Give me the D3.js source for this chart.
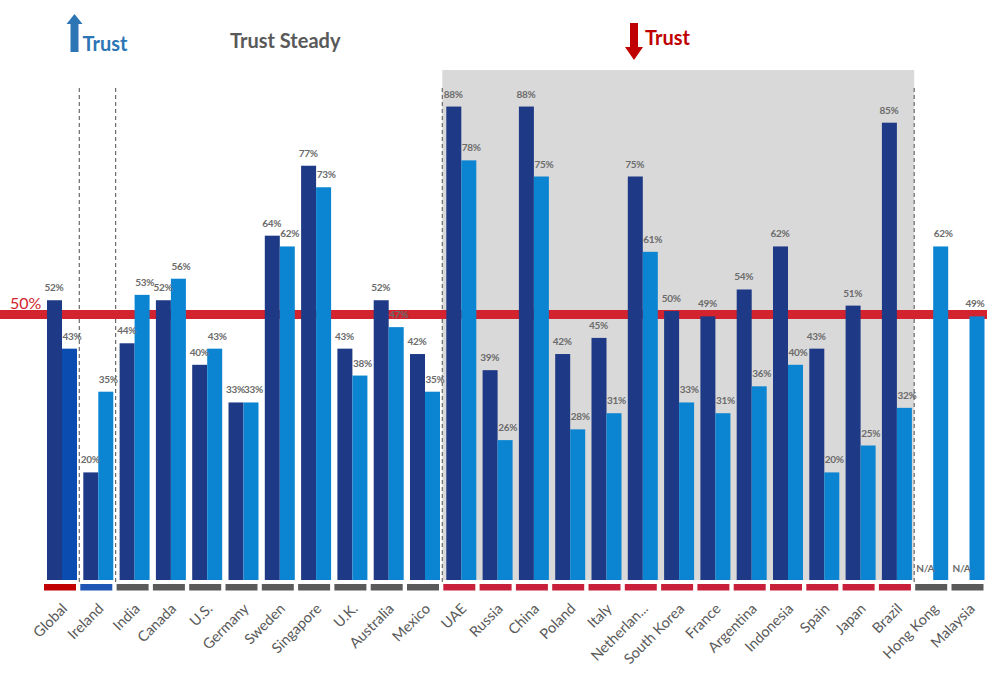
<!DOCTYPE html>
<html>
<head>
<meta charset="utf-8">
<script src="https://cdn.jsdelivr.net/npm/d3@7"></script>
<style>
  html, body { margin: 0; padding: 0; background: #ffffff; }
  svg { display: block; }
</style>
</head>
<body>
<svg id="chart" width="987" height="675"></svg>
<script>
// ---- data ----
const categories = ["Global","Ireland","India","Canada","U.S.","Germany","Sweden","Singapore","U.K.","Australia","Mexico","UAE","Russia","China","Poland","Italy","Netherlan...","South Korea","France","Argentina","Indonesia","Spain","Japan","Brazil","Hong Kong","Malaysia"];
const trustBefore = [52,20,44,52,40,33,64,77,43,52,42,88,39,88,42,45,75,50,49,54,62,43,51,85,null,null];
const trustAfter  = [43,35,53,56,43,33,62,73,38,47,35,78,26,75,28,31,61,33,31,36,40,20,25,32,62,49];
const groups = ["global","up","steady","steady","steady","steady","steady","steady","steady","steady","steady","down","down","down","down","down","down","down","down","down","down","down","down","down","steady","steady"];
const threshold = 50;

// ---- styles ----
const groupColor = { global: "#c00000", up: "#1f56b4", steady: "#5a5a5a", down: "#c8203a" };
const darkBlue = "#1e3a86";
const lightBlue = "#0b85d2";
const globalLight = "#0a4cb0";
const labelColor = "#6b6b6b";

const svg = d3.select("#chart");
const W = 987, H = 675;

const x = d3.scaleBand().domain(categories).range([41.5, 41.5 + 26 * 36.3]).padding(0);
const y = d3.scaleLinear().domain([0, 100]).range([580, 42]);
const bw = 15, off = 5.5;

// shaded "trust down" region
const firstDown = categories[groups.indexOf("down")];
const lastDown = categories[groups.lastIndexOf("down")];
svg.append("rect")
  .attr("x", x(firstDown) + 1.5)
  .attr("y", 70)
  .attr("width", x(lastDown) + x.bandwidth() - x(firstDown))
  .attr("height", y(0) - 70)
  .attr("fill", "#d9d9d9");

// dashed separators
const seps = [x("Ireland"), x("India"), x(firstDown), x(lastDown) + x.bandwidth()];
svg.selectAll("line.sep").data(seps).join("line")
  .attr("class", "sep")
  .attr("x1", d => d + 1.5).attr("x2", d => d + 1.5)
  .attr("y1", 88).attr("y2", 582)
  .attr("stroke", "#6a6a6a").attr("stroke-width", 1.2)
  .attr("stroke-dasharray", "4,3");

// 50% red threshold line
svg.append("rect")
  .attr("x", 0).attr("y", y(threshold) - 1)
  .attr("width", W).attr("height", 9)
  .attr("fill", "#d2232e");
svg.append("text")
  .attr("x", 10).attr("y", y(threshold) - 2)
  .attr("fill", "#d2232e")
  .attr("font-family", "Lato, 'Open Sans', sans-serif")
  .attr("font-size", 16)
  .text(threshold + "%");

// bars
const rows = categories.map((c, i) => ({ c, i, a: trustBefore[i], b: trustAfter[i], g: groups[i] }));

svg.selectAll("rect.before").data(rows.filter(d => d.a != null)).join("rect")
  .attr("class", "before")
  .attr("x", d => x(d.c) + off)
  .attr("y", d => y(d.a))
  .attr("width", bw)
  .attr("height", d => y(0) - y(d.a))
  .attr("fill", darkBlue);

svg.selectAll("rect.after").data(rows).join("rect")
  .attr("class", "after")
  .attr("x", d => x(d.c) + off + bw)
  .attr("y", d => y(d.b))
  .attr("width", bw)
  .attr("height", d => y(0) - y(d.b))
  .attr("fill", d => d.g === "global" ? globalLight : lightBlue);

// value labels
const lblFont = "Lato, 'Open Sans', sans-serif";
svg.selectAll("text.la").data(rows).join("text")
  .attr("class", "la")
  .attr("x", d => x(d.c) + off + bw / 2 - 0.5)
  .attr("y", d => d.a == null ? y(0) - 8 : y(d.a) - 9)
  .attr("text-anchor", "middle")
  .attr("font-family", lblFont)
  .attr("font-weight", "bold")
  .attr("font-size", 10)
  .attr("letter-spacing", -0.3)
  .attr("fill", labelColor)
  .text(d => d.a == null ? "N/A" : d.a + "%");

svg.selectAll("text.lb").data(rows).join("text")
  .attr("class", "lb")
  .attr("x", d => Math.min(x(d.c) + off + bw * 1.5 + 2.5, W - 12))
  .attr("y", d => y(d.b) - 9)
  .attr("text-anchor", "middle")
  .attr("font-family", lblFont)
  .attr("font-weight", "bold")
  .attr("font-size", 10)
  .attr("letter-spacing", -0.3)
  .attr("fill", labelColor)
  .text(d => d.b + "%");

// group colour segments
svg.selectAll("rect.seg").data(rows).join("rect")
  .attr("class", "seg")
  .attr("x", d => x(d.c) + 2.5)
  .attr("y", 584)
  .attr("width", 32)
  .attr("height", 6.5)
  .attr("fill", d => groupColor[d.g]);

// category labels (rotated)
svg.selectAll("text.cat").data(rows).join("text")
  .attr("class", "cat")
  .attr("transform", d => `translate(${x(d.c) + x.bandwidth() / 2 + 5},${606}) rotate(-45)`)
  .attr("text-anchor", "end")
  .attr("dy", "0.35em")
  .attr("font-family", "Lato, 'Open Sans', sans-serif")
  .attr("font-size", 14.5)
  .attr("fill", "#595959")
  .text(d => d.c);

// headers
// up arrow + Trust
const upX = x("Global") + 33;
svg.append("path")
  .attr("d", `M${upX - 4},52 L${upX - 4},24 L${upX - 8},24 L${upX},14 L${upX + 8},24 L${upX + 4},24 L${upX + 4},52 Z`)
  .attr("fill", "#2e75b6");
svg.append("text")
  .attr("x", upX + 8).attr("y", 51)
  .attr("font-family", "Lato, 'Open Sans', sans-serif")
  .attr("font-size", 20).attr("font-weight", "bold")
  .attr("fill", "#2e75b6")
  .text("Trust");

svg.append("text")
  .attr("x", 230).attr("y", 48)
  .attr("font-family", "Lato, 'Open Sans', sans-serif")
  .attr("font-size", 20).attr("font-weight", "bold")
  .attr("fill", "#595959")
  .text("Trust Steady");

// down arrow + Trust
const dnX = 634;
svg.append("path")
  .attr("d", `M${dnX - 4},23 L${dnX + 4},23 L${dnX + 4},47 L${dnX + 9},47 L${dnX},60 L${dnX - 9},47 L${dnX - 4},47 Z`)
  .attr("fill", "#c00000");
svg.append("text")
  .attr("x", dnX + 11).attr("y", 45)
  .attr("font-family", "Lato, 'Open Sans', sans-serif")
  .attr("font-size", 20).attr("font-weight", "bold")
  .attr("fill", "#c00000")
  .text("Trust");
</script>
</body>
</html>
